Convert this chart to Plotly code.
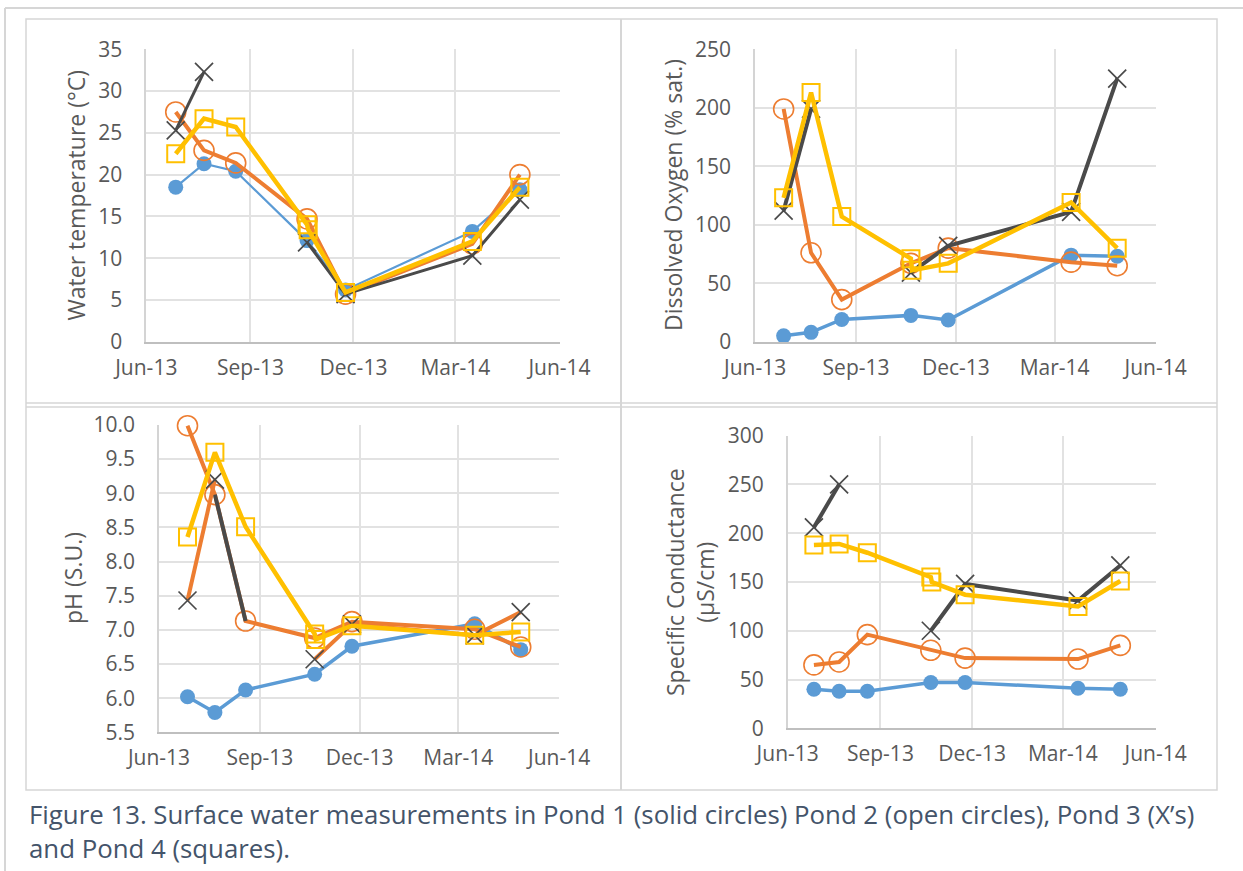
import plotly.graph_objects as go

W, H = 1243, 871

# Sampling dates (Pond 4 was sampled twice in October)
sample_dates = ["2013-06-27", "2013-07-22", "2013-08-19", "2013-10-21",
                "2013-11-24", "2014-03-16", "2014-04-27"]
pond4_dates = ["2013-06-27", "2013-07-22", "2013-08-19", "2013-10-21",
               "2013-10-22", "2013-11-24", "2014-03-16", "2014-04-27"]

tick_dates = ["2013-06-01", "2013-09-01", "2013-12-01", "2014-03-01", "2014-06-01"]
tick_labels = ["Jun-13", "Sep-13", "Dec-13", "Mar-14", "Jun-14"]

# Water temperature (°C)
temp_p1 = [18.5, 21.3, 20.4, 12.1, 6.2, 13.2, 18.2]
temp_p2 = [27.5, 22.9, 21.4, 14.7, 5.7, 11.7, 20.0]
temp_p3 = [25.3, 32.3, None, 11.9, 5.7, 10.3, 17.0]
temp_p4 = [22.5, 26.7, 25.7, 14.0, 13.4, 5.9, 12.0, 18.5]

# Dissolved oxygen (% sat.)
do_p1 = [5, 8, 19, 22.5, 18.5, 74, 73]
do_p2 = [199, 76, 36, 67, 80, 68, 65]
do_p3 = [112, 199, None, 59, 82, 111, 225]
do_p4 = [123, 213, 107, 71, 61, 67, 119, 80]

# pH (S.U.)
ph_p1 = [6.02, 5.79, 6.12, 6.35, 6.76, 7.09, 6.71]
ph_p2 = [9.99, 8.98, 7.13, 6.88, 7.12, 7.01, 6.75]
ph_p3 = [7.43, 9.20, None, 6.57, 7.08, 6.92, 7.26]
ph_p4 = [8.36, 9.60, 8.51, 6.94, 6.86, 7.06, 6.92, 6.97]

# Specific conductance (µS/cm)
sc_p1 = [40, 38, 38, 47, 47, 41, 40]
sc_p2 = [65, 68, 96, 80, 72, 71, 85]
sc_p3 = [206, 250, None, 100, 148, 131, 167]
sc_p4 = [188, 189, 180, 155, 150, 137, 125, 151]

BLUE, ORANGE, GRAY, GOLD = "#5B9BD5", "#ED7D31", "#4A4A4A", "#FFC000"
TEXT = "#595959"
FONT = "Open Sans, sans-serif"


def fx(px):
    return px / W


def fy(py):
    return 1 - py / H


# plot areas in pixels: (left, right, top, bottom)
panels = [
    dict(box=(146.3, 559.5, 49.3, 341.7), yr=[0, 35], dt=5, fmt="", thin=True,
         data=(temp_p1, temp_p2, temp_p3, temp_p4),
         title="Water temperature (°C)", tx=75, ty=195.5),
    dict(box=(755.1, 1155.6, 49.3, 341.7), yr=[0, 250], dt=50, fmt="", thin=False,
         data=(do_p1, do_p2, do_p3, do_p4),
         title="Dissolved Oxygen (% sat.)", tx=673, ty=195),
    dict(box=(159.0, 559.1, 425.0, 732.3), yr=[5.5, 10.0], dt=0.5, fmt=".1f", thin=False,
         data=(ph_p1, ph_p2, ph_p3, ph_p4),
         title="pH (S.U.)", tx=73, ty=578),
    dict(box=(787.7, 1155.6, 435.7, 728.3), yr=[0, 300], dt=50, fmt="", thin=False,
         data=(sc_p1, sc_p2, sc_p3, sc_p4),
         title="Specific Conductance<br>(µS/cm)", tx=690, ty=582),
]

fig = go.Figure()
annotations = []

for i, p in enumerate(panels, start=1):
    xa = "x" if i == 1 else f"x{i}"
    ya = "y" if i == 1 else f"y{i}"
    l, r, t, b = p["box"]
    p1, p2, p3, p4 = p["data"]
    pond3_line = ORANGE if i == 3 else GRAY
    blue_w = 2.2 if p["thin"] else 3.5
    gray_w = 3.0 if p["thin"] else 4.0

    fig.add_trace(go.Scatter(
        x=sample_dates, y=p1, xaxis=xa, yaxis=ya, mode="lines+markers",
        cliponaxis=False,
        line=dict(color=BLUE, width=blue_w),
        marker=dict(symbol="circle", size=15, color=BLUE)))
    fig.add_trace(go.Scatter(
        x=sample_dates, y=p2, xaxis=xa, yaxis=ya, mode="lines+markers",
        cliponaxis=False,
        line=dict(color=ORANGE, width=4),
        marker=dict(symbol="circle-open", size=20, color=ORANGE,
                    line=dict(color=ORANGE, width=1.6))))
    if i == 3:
        # July-August pH segment of Pond 2 is drawn in dark gray
        fig.add_trace(go.Scatter(
            x=sample_dates[1:3], y=p2[1:3], xaxis=xa, yaxis=ya, mode="lines",
            line=dict(color=GRAY, width=4)))
    fig.add_trace(go.Scatter(
        x=sample_dates, y=p3, xaxis=xa, yaxis=ya, mode="lines+markers",
        connectgaps=False, cliponaxis=False,
        line=dict(color=pond3_line, width=gray_w),
        marker=dict(symbol="x-thin-open", size=18, color=GRAY,
                    line=dict(color=GRAY, width=1.7))))
    fig.add_trace(go.Scatter(
        x=pond4_dates, y=p4, xaxis=xa, yaxis=ya, mode="lines+markers",
        cliponaxis=False,
        line=dict(color=GOLD, width=4.5),
        marker=dict(symbol="square-open", size=17, color=GOLD,
                    line=dict(color=GOLD, width=2))))

    lo, hi = p["yr"]
    n = int(round((hi - lo) / p["dt"]))
    yticks = [lo + k * p["dt"] for k in range(n + 1)]

    fig.layout[f"xaxis{'' if i == 1 else i}"] = dict(
        domain=[fx(l), fx(r)], anchor=ya, type="date",
        range=["2013-06-01", "2014-06-01"],
        tickvals=tick_dates, ticktext=tick_labels,
        showgrid=True, gridcolor="#E2E2E2", gridwidth=1.5,
        showline=True, linecolor="#BFBFBF", linewidth=1.6,
        ticks="outside", ticklen=6, tickcolor="rgba(0,0,0,0)",
        tickfont=dict(family=FONT, size=21, color=TEXT),
        zeroline=False, fixedrange=True, automargin=False)
    fig.layout[f"yaxis{'' if i == 1 else i}"] = dict(
        domain=[fy(b), fy(t)], anchor=xa, range=[lo, hi],
        tickvals=yticks, tickformat=p["fmt"],
        showgrid=True, gridcolor="#E2E2E2", gridwidth=1.5,
        showline=True, linecolor="#D4D4D4", linewidth=1.5,
        ticks="outside", ticklen=18, tickcolor="rgba(0,0,0,0)",
        tickfont=dict(family=FONT, size=21, color=TEXT),
        zeroline=False, fixedrange=True, automargin=False)

    annotations.append(dict(
        text=p["title"], xref="paper", yref="paper", x=fx(p["tx"]), y=fy(p["ty"]),
        xanchor="center", yanchor="middle", textangle=-90, showarrow=False,
        font=dict(family=FONT, size=23, color=TEXT)))

# caption
annotations.append(dict(
    text="Figure 13. Surface water measurements in Pond 1 (solid circles) Pond 2 "
         "(open circles), Pond 3 (X’s)<br>and Pond 4 (squares).",
    xref="paper", yref="paper", x=fx(27), y=fy(794), xanchor="left", yanchor="top",
    align="left", showarrow=False,
    font=dict(family=FONT, size=25.8, color="#44546A")))

# page frame and table cell borders
frame = "#D6D6D6"
shapes = [
    dict(type="line", x0=fx(5), x1=1, y0=fy(8), y1=fy(8), line=dict(color=frame, width=2)),
    dict(type="line", x0=fx(5), x1=fx(5), y0=fy(8), y1=0, line=dict(color=frame, width=2)),
    dict(type="rect", x0=fx(26), x1=fx(1217), y0=fy(19), y1=fy(790),
         line=dict(color=frame, width=1.5)),
    dict(type="line", x0=fx(621), x1=fx(621), y0=fy(19), y1=fy(790),
         line=dict(color=frame, width=2)),
    dict(type="line", x0=fx(26), x1=fx(1217), y0=fy(403), y1=fy(403),
         line=dict(color=frame, width=1.5)),
    dict(type="line", x0=fx(26), x1=fx(1217), y0=fy(407), y1=fy(407),
         line=dict(color=frame, width=1.5)),
]
for s in shapes:
    s.update(xref="paper", yref="paper", layer="below")

fig.update_layout(
    width=W, height=H, margin=dict(l=0, r=0, t=0, b=0),
    paper_bgcolor="white", plot_bgcolor="white",
    showlegend=False, annotations=annotations, shapes=shapes)

fig.write_html("out.html", config={"displayModeBar": False})
